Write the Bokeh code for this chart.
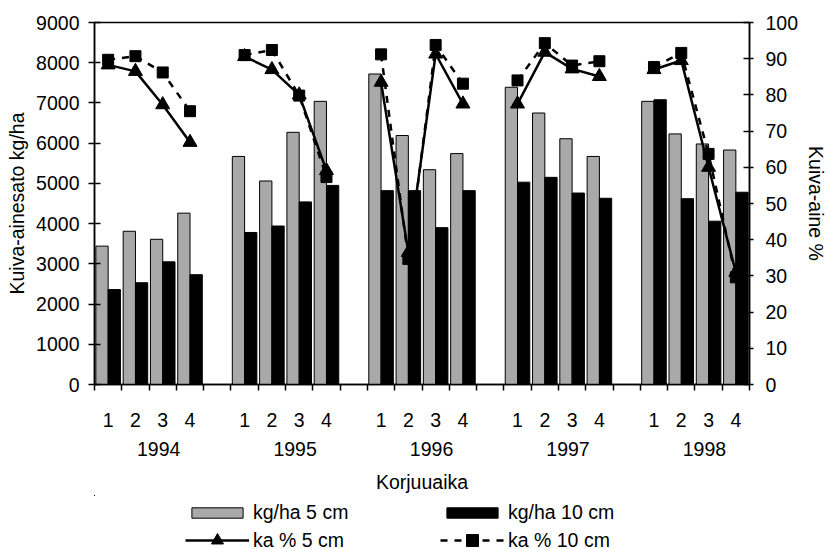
import numpy as np
from bokeh.plotting import figure
from bokeh.layouts import column
from bokeh.models import (Range1d, LinearAxis, FixedTicker, Legend, LegendItem,
                          ColumnDataSource)
from bokeh.embed import file_html
from bokeh.resources import INLINE

# ---------------- data ----------------
years = ["1994", "1995", "1996", "1997", "1998"]
harvests = ["1", "2", "3", "4"]

# dry-matter yield kg/ha (bars)
kg_5cm = [3440, 3810, 3610, 4260,
          5670, 5060, 6270, 7040,
          7720, 6190, 5340, 5740,
          7390, 6750, 6110, 5670,
          7040, 6230, 5980, 5830]
kg_10cm = [2360, 2530, 3050, 2730,
           3780, 3940, 4540, 4950,
           4820, 4820, 3900, 4820,
           5030, 5150, 4760, 4630,
           7080, 4620, 4060, 4780]

# dry-matter content % (lines)
ka_5cm = [88.3, 86.5, 77.3, 66.9,
          90.6, 87.0, 80.0, 59.1,
          83.5, 36.5, 91.3, 77.5,
          77.5, 91.8, 87.2, 85.1,
          87.0, 89.5, 60.0, 31.0]
ka_10cm = [89.7, 90.7, 86.2, 75.5,
           91.0, 92.4, 79.8, 57.3,
           91.2, 34.7, 93.8, 83.1,
           84.0, 94.3, 88.1, 89.3,
           87.7, 91.6, 63.7, 29.6]

left_ticks = list(range(0, 9001, 1000))
right_ticks = list(range(0, 101, 10))
legend_labels = ["kg/ha 5 cm", "ka % 5 cm", "kg/ha 10 cm", "ka % 10 cm"]

# ---------------- layout helpers ----------------
FONT = "Liberation Sans"
FS = "19.5px"
GRAY = "#A9A9A9"
MAIN_H, LEG_H = 495, 54

nh = len(harvests)
group = nh + 1                       # one empty slot between years
n_slots = len(years) * group - 1     # 24
centers = [yi * group + hi + 0.5 for yi in range(len(years)) for hi in range(nh)]
year_centers = [yi * group + nh / 2.0 + 0.35 for yi in range(len(years))]

# lines broken between years (NaN gaps)
lx, l5, l10 = [], [], []
for yi in range(len(years)):
    for hi in range(nh):
        k = yi * nh + hi
        lx.append(centers[k]); l5.append(ka_5cm[k]); l10.append(ka_10cm[k])
    lx.append(np.nan); l5.append(np.nan); l10.append(np.nan)
lsrc = ColumnDataSource(dict(x=np.array(lx), p5=np.array(l5), p10=np.array(l10)))

bw = 0.45
src = ColumnDataSource(dict(
    x5=[c - bw / 2 for c in centers], x10=[c + bw / 2 for c in centers],
    kg5=kg_5cm, kg10=kg_10cm))

p = figure(width=830, height=MAIN_H, x_range=Range1d(0, n_slots),
           y_range=Range1d(0, 9000), output_backend="svg",
           toolbar_location=None, min_border_left=94, min_border_right=81,
           min_border_top=22, min_border_bottom=MAIN_H - 384)
p.extra_y_ranges = {"pct": Range1d(0, 100)}
p.xgrid.visible = False
p.ygrid.visible = False
p.outline_line_color = "black"
p.outline_line_width = 1.5
p.background_fill_color = "white"
p.border_fill_color = "white"

BAR5 = dict(fill_color=GRAY, line_color="black", line_width=1)
BAR10 = dict(fill_color="black", line_color="black", line_width=1)
LINE5 = dict(line_color="black", line_width=2.5)
LINE10 = dict(line_color="black", line_width=2.5, line_dash="7 7")
MK5 = dict(marker="triangle", size=14, fill_color="black", line_color="black")
MK10 = dict(marker="square", size=11, fill_color="black", line_color="black")

def draw_series(fig, **kw):
    r = {}
    r["b5"] = fig.vbar(x="x5", top="kg5", width=bw, source=src, **BAR5)
    r["b10"] = fig.vbar(x="x10", top="kg10", width=bw, source=src, **BAR10)
    r["l5"] = fig.line(x="x", y="p5", source=lsrc, **LINE5, **kw)
    r["m5"] = fig.scatter(x="x", y="p5", source=lsrc, **MK5, **kw)
    r["l10"] = fig.line(x="x", y="p10", source=lsrc, **LINE10, **kw)
    r["m10"] = fig.scatter(x="x", y="p10", source=lsrc, **MK10, **kw)
    return r

draw_series(p, y_range_name="pct")

def style_labels(ax):
    ax.major_label_text_font = FONT
    ax.major_label_text_font_size = FS
    ax.major_label_text_color = "black"
    ax.axis_label_text_font = FONT
    ax.axis_label_text_font_size = FS
    ax.axis_label_text_font_style = "normal"
    ax.axis_label_text_color = "black"

# bottom axis: ticks at slot boundaries, labels 1..4 at slot centers
xa = p.xaxis[0]
xa.ticker = FixedTicker(ticks=centers, minor_ticks=list(range(n_slots + 1)))
xa.major_label_overrides = {float(c): harvests[i % nh] for i, c in enumerate(centers)}
xa.major_tick_out = 0
xa.major_tick_in = 0
xa.minor_tick_out = 6
xa.minor_tick_in = 0
xa.minor_tick_line_color = "black"
xa.minor_tick_line_width = 1.5
xa.axis_line_width = 1.5
xa.axis_line_color = "black"
xa.major_label_standoff = 22
style_labels(xa)

# second bottom axis: years + title
ya_years = LinearAxis(ticker=FixedTicker(ticks=year_centers, minor_ticks=[]),
                      major_label_overrides={float(c): years[i] for i, c in enumerate(year_centers)},
                      axis_line_color=None, major_tick_line_color=None,
                      minor_tick_line_color=None, major_tick_out=0, major_tick_in=0,
                      major_label_standoff=12, axis_label="Korjuuaika",
                      axis_label_standoff=12)
style_labels(ya_years)
p.add_layout(ya_years, "below")

# left axis
la = p.yaxis[0]
la.ticker = FixedTicker(ticks=left_ticks, minor_ticks=[])
la.major_tick_in = 6
la.major_tick_out = 6
la.major_tick_line_color = "black"
la.major_tick_line_width = 1.5
la.axis_line_width = 1.5
la.axis_line_color = "black"
la.major_label_standoff = 9
la.axis_label = "Kuiva-ainesato kg/ha"
la.axis_label_standoff = 5
style_labels(la)

# right axis
ra = LinearAxis(y_range_name="pct", ticker=FixedTicker(ticks=right_ticks, minor_ticks=[]),
                major_tick_in=6, major_tick_out=4, major_tick_line_color="black",
                major_tick_line_width=1.5, axis_line_width=1.5, axis_line_color="black",
                major_label_standoff=12, axis_label="Kuiva-aine %", axis_label_standoff=4)
style_labels(ra)
p.add_layout(ra, "right")

# ---------------- legend strip (series kept out of view, only the legends show) ----------------
pl = figure(width=830, height=LEG_H, x_range=Range1d(30, 60), y_range=Range1d(-9000, -8000),
            output_backend="svg", toolbar_location=None, min_border=0,
            x_axis_location=None, y_axis_location=None)
pl.xgrid.visible = False
pl.ygrid.visible = False
pl.outline_line_color = None
pl.background_fill_color = "white"
pl.border_fill_color = "white"
g = draw_series(pl)

LEG_STYLE = dict(orientation="horizontal", glyph_width=64, label_width=181, spacing=6,
                 padding=0, margin=0, border_line_color=None, background_fill_alpha=0,
                 label_text_font=FONT, label_text_font_size=FS,
                 label_text_color="black", label_standoff=4)

leg_bars = Legend(items=[
    LegendItem(label=legend_labels[0], renderers=[g["b5"]]),
    LegendItem(label=legend_labels[2], renderers=[g["b10"]]),
], location=(91, 25), glyph_height=13, **LEG_STYLE)
leg_lines = Legend(items=[
    LegendItem(label=legend_labels[1], renderers=[g["l5"], g["m5"]]),
    LegendItem(label=legend_labels[3], renderers=[g["l10"], g["m10"]]),
], location=(91, -6), glyph_height=30, **LEG_STYLE)
pl.add_layout(leg_bars)
pl.add_layout(leg_lines)

layout = column(p, pl, spacing=0)
open("out.html", "w").write(file_html(layout, INLINE))
